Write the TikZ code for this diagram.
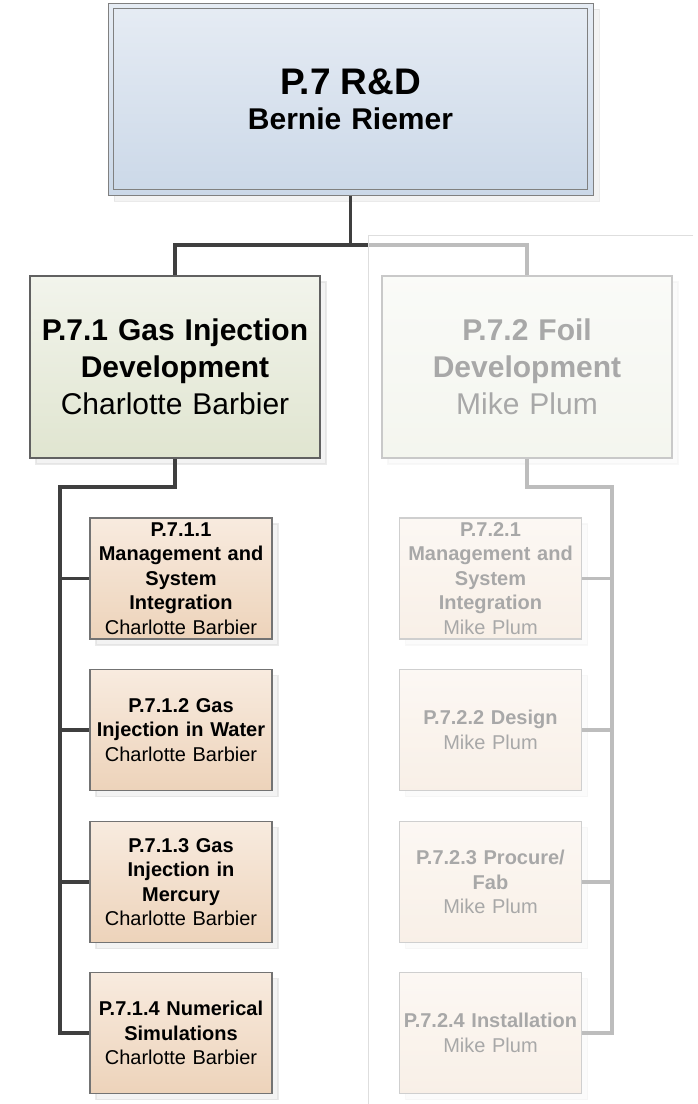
\documentclass[tikz,border=0pt]{standalone}
\usepackage{fontspec}
\setmainfont{Liberation Sans}
\usetikzlibrary{shadows}
\definecolor{headtop}{HTML}{E6ECF4}
\definecolor{headbot}{HTML}{CBD8E8}
\definecolor{areatop}{HTML}{F2F4EC}
\definecolor{areabot}{HTML}{E0E5D0}
\definecolor{tasktop}{HTML}{F8EBDF}
\definecolor{taskbot}{HTML}{EDD3BA}
\definecolor{wirecol}{HTML}{3F3F3F}
\begin{document}
\begin{tikzpicture}[x = 1pt, y = -1pt,
    every node/.style = {shape = rectangle, inner sep = 0pt, align = center},
    boxshadow/.style = {drop shadow = {shadow xshift = 6pt, shadow yshift = -6pt,
                        fill = black!9, draw = black!16}},
    headbox/.style = {boxshadow, draw = black!50, line width = 1pt,
                      top color = headtop, bottom color = headbot,
                      minimum width = 485pt, minimum height = 192pt, text width = 480pt,
                      font = \fontsize{30}{35}\selectfont\bfseries},
    areabox/.style = {boxshadow, draw = black!62, line width = 1.2pt,
                      top color = areatop, bottom color = areabot,
                      minimum width = 290pt, minimum height = 182pt, text width = 288pt,
                      font = \fontsize{30}{37}\selectfont},
    taskbox/.style = {boxshadow, draw = black!55, line width = 1.2pt,
                      top color = tasktop, bottom color = taskbot,
                      minimum width = 182pt, minimum height = 121pt, text width = 182pt,
                      font = \fontsize{20}{24.5}\selectfont},
    wire/.style = {draw = wirecol, line width = 3.5pt}]
      \useasboundingbox (0, 0) rectangle (697, 1104);

      \node [headbox] (rd) at (350.5, 99)
            {{\fontsize{37}{35}\selectfont P.7 R\&D}\\Bernie Riemer};
      \draw [black!50] ([xshift = 6pt, yshift = -6pt]rd.north west)
            rectangle ([xshift = -6pt, yshift = 6pt]rd.south east);

      \node [areabox] (gas)  at (175, 367)
            {{\bfseries P.7.1 Gas Injection\\Development}\\Charlotte Barbier};
      \node [areabox] (foil) at (527, 367)
            {{\bfseries P.7.2 Foil\\Development}\\Mike Plum};

      \node [taskbox] (g1) at (181, 578.5)
            {{\bfseries P.7.1.1\\Management and\\System\\Integration}\\Charlotte Barbier};
      \node [taskbox] (g2) at (181, 730)
            {{\bfseries P.7.1.2 Gas\\Injection in Water}\\Charlotte Barbier};
      \node [taskbox] (g3) at (181, 882)
            {{\bfseries P.7.1.3 Gas\\Injection in\\Mercury}\\Charlotte Barbier};
      \node [taskbox] (g4) at (181, 1033)
            {{\bfseries P.7.1.4 Numerical\\Simulations}\\Charlotte Barbier};

      \node [taskbox] (f1) at (490.5, 578.5)
            {{\bfseries P.7.2.1\\Management and\\System\\Integration}\\Mike Plum};
      \node [taskbox] (f2) at (490.5, 730)
            {{\bfseries P.7.2.2 Design}\\Mike Plum};
      \node [taskbox] (f3) at (490.5, 882)
            {{\bfseries P.7.2.3 Procure/\\Fab}\\Mike Plum};
      \node [taskbox] (f4) at (490.5, 1033)
            {{\bfseries P.7.2.4 Installation}\\Mike Plum};

      \coordinate (j0) at (350.5, 245);
      \coordinate (j1) at (60, 487);
      \coordinate (j2) at (612, 487);
      \draw [wire] (rd) -- (j0) -| (gas);
      \draw [wire] (j0) -| (foil);
      \draw [wire] (gas) |- (j1) |- (g4);
      \draw [wire] (foil) |- (j2) |- (f4);
      \foreach \t in {g1, g2, g3}
        \draw [wire] (j1) |- (\t);
      \foreach \t in {f1, f2, f3}
        \draw [wire] (j2) |- (\t);

      \fill [white, fill opacity = 0.66] (368, 235) rectangle (697, 1104);
      \draw [black!13, line width = 1pt] (693, 235) -- (368, 235) -- (368, 1104);
    \end{tikzpicture}
\end{document}
